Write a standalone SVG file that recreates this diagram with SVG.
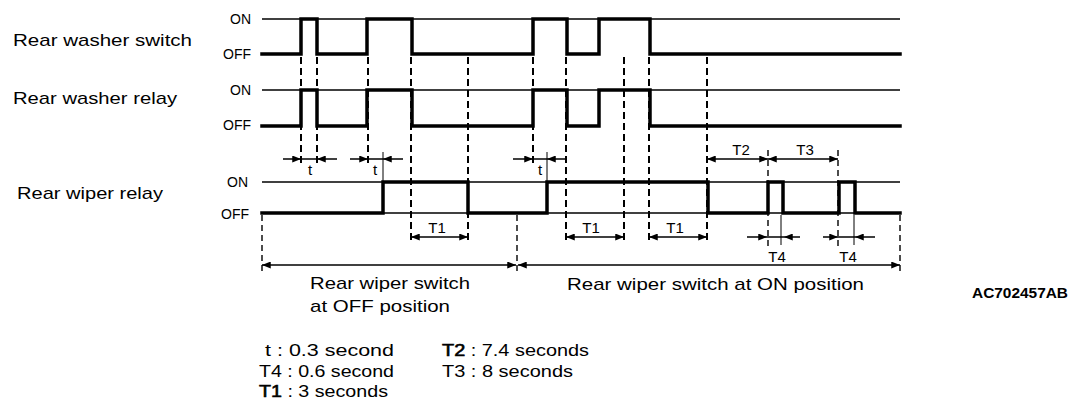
<svg xmlns="http://www.w3.org/2000/svg" width="1088" height="420" viewBox="0 0 1088 420">
<defs>
<style>
text{font-family:"Liberation Sans",Arial,Helvetica,sans-serif;fill:#000}
.lbl{font-size:17px}
.st{font-size:14px}
.tm{font-size:15px}
.hv{stroke:#000;stroke-width:0.6}
.ref{stroke:#000;stroke-width:1.5;fill:none}
.sig{stroke:#000;stroke-width:3.5;fill:none;stroke-linejoin:miter;stroke-linecap:square}
.dash{stroke:#000;stroke-width:2;stroke-dasharray:7 4;fill:none}
.dash2{stroke:#000;stroke-width:1.4;stroke-dasharray:6 4;fill:none}
.tick{stroke:#000;stroke-width:1;fill:none}
.arr{stroke:#000;stroke-width:1.5;fill:none}
.a1{marker-end:url(#ah)}
.a2{marker-start:url(#ah);marker-end:url(#ah)}
</style>
<marker id="ah" viewBox="0 0 10 8" refX="10" refY="4" markerWidth="10" markerHeight="7" markerUnits="userSpaceOnUse" orient="auto-start-reverse"><path d="M0,0 L10,4 L0,8 z" fill="#000"/></marker>
</defs>
<rect width="1088" height="420" fill="#fff"/>

<g id="washer-switch">
<text class="lbl" x="13" y="46" textLength="179" lengthAdjust="spacingAndGlyphs">Rear washer switch</text>
<text class="st" x="251" y="24" text-anchor="end">ON</text>
<text class="st" x="251" y="59" text-anchor="end">OFF</text>
<line class="ref" x1="262" y1="19" x2="900" y2="19"/>
<path class="sig" d="M262,54 H301 V19 H317 V54 H367 V19 H412 V54 H533 V19 H567 V54 H599 V19 H650 V54 H900"/>
</g>

<g id="washer-relay">
<text class="lbl" x="13" y="104" textLength="164" lengthAdjust="spacingAndGlyphs">Rear washer relay</text>
<text class="st" x="251" y="95" text-anchor="end">ON</text>
<text class="st" x="251" y="130" text-anchor="end">OFF</text>
<line class="ref" x1="262" y1="90" x2="900" y2="90"/>
<path class="sig" d="M262,126 H301 V90 H317 V126 H367 V90 H412 V126 H533 V90 H567 V126 H599 V90 H650 V126 H900"/>
</g>

<g id="wiper-relay">
<text class="lbl" x="17" y="199" textLength="146" lengthAdjust="spacingAndGlyphs">Rear wiper relay</text>
<text class="st" x="248" y="187" text-anchor="end">ON</text>
<text class="st" x="249" y="219" text-anchor="end">OFF</text>
<line class="ref" x1="262" y1="182" x2="900" y2="182"/>
<line class="ref" x1="262" y1="213" x2="900" y2="213"/>
<path class="sig" d="M262,213 H383 V182 H468 V213 H547 V182 H708 V213 H768 V182 H783 V213 H839 V182 H855 V213 H900"/>
</g>

<g id="connectors">
<path class="dash" d="M301,57 V167 M317,57 V167 M368,57 V166 M411,57 V242 M468,57 V242 M533,57 V167 M566,57 V242 M624,57 V242 M649,57 V242 M707,57 V242"/>
<path class="dash2" d="M262,215 V271 M517,215 V271 M900,215 V271 M768,150 V250 M838,150 V250"/>
<path class="tick" d="M383,152 V181 M547,152 V181 M781,215 V245 M854,215 V245"/>
<line class="arr a1" x1="283" y1="159" x2="301" y2="159"/>
<line class="arr" x1="301" y1="159" x2="317" y2="159"/>
<line class="arr a1" x1="337" y1="159" x2="317" y2="159"/>
<line class="arr a1" x1="350" y1="159" x2="368" y2="159"/>
<line class="arr" x1="368" y1="159" x2="383" y2="159"/>
<line class="arr a1" x1="403" y1="159" x2="383" y2="159"/>
<line class="arr a1" x1="513" y1="159" x2="533" y2="159"/>
<line class="arr" x1="533" y1="159" x2="547" y2="159"/>
<line class="arr a1" x1="566" y1="159" x2="547" y2="159"/>
<line class="arr a2" x1="411" y1="237" x2="468" y2="237"/>
<line class="arr a2" x1="566" y1="237" x2="624" y2="237"/>
<line class="arr a2" x1="649" y1="237" x2="707" y2="237"/>
<line class="arr a2" x1="707" y1="159" x2="768" y2="159"/>
<line class="arr a2" x1="768" y1="159" x2="838" y2="159"/>
<line class="arr a1" x1="747" y1="237" x2="767" y2="237"/>
<line class="arr" x1="767" y1="237" x2="784" y2="237"/>
<line class="arr a1" x1="800" y1="237" x2="784" y2="237"/>
<line class="arr a1" x1="823" y1="237" x2="838" y2="237"/>
<line class="arr" x1="838" y1="237" x2="855" y2="237"/>
<line class="arr a1" x1="875" y1="237" x2="855" y2="237"/>
<line class="arr a2" x1="262" y1="265" x2="516" y2="265"/>
<line class="arr a2" x1="518" y1="265" x2="900" y2="265"/>
</g>

<g id="timing-labels">
<text class="tm" x="310" y="175" text-anchor="middle">t</text>
<text class="tm" x="375" y="175" text-anchor="middle">t</text>
<text class="tm" x="540" y="175" text-anchor="middle">t</text>
<text class="tm" x="437" y="233" text-anchor="middle">T1</text>
<text class="tm" x="591" y="233" text-anchor="middle">T1</text>
<text class="tm" x="675" y="233" text-anchor="middle">T1</text>
<text class="tm" x="741" y="155" text-anchor="middle">T2</text>
<text class="tm" x="805" y="155" text-anchor="middle">T3</text>
<text class="tm" x="777" y="262" text-anchor="middle">T4</text>
<text class="tm" x="848" y="262" text-anchor="middle">T4</text>
</g>

<g id="switch-off-label">
<text class="lbl" x="310" y="289" textLength="160" lengthAdjust="spacingAndGlyphs">Rear wiper switch</text>
<text class="lbl" x="310" y="312" textLength="140" lengthAdjust="spacingAndGlyphs">at OFF position</text>
</g>
<g id="switch-on-label">
<text class="lbl" x="567" y="290" textLength="297" lengthAdjust="spacingAndGlyphs">Rear wiper switch at ON position</text>
</g>

<g id="figure-code">
<text x="972" y="298" font-size="14" font-weight="bold" textLength="96" lengthAdjust="spacingAndGlyphs">AC702457AB</text>
</g>

<g id="legend">
<text class="lbl" x="265" y="356" textLength="129" lengthAdjust="spacingAndGlyphs">t : 0.3 second</text>
<text class="lbl" x="259" y="377" textLength="135" lengthAdjust="spacingAndGlyphs">T4 : 0.6 second</text>
<text class="lbl" x="259" y="397" textLength="129" lengthAdjust="spacingAndGlyphs"><tspan class="hv">T1</tspan> : 3 seconds</text>
<text class="lbl" x="442" y="356" textLength="147" lengthAdjust="spacingAndGlyphs"><tspan class="hv">T2</tspan> : 7.4 seconds</text>
<text class="lbl" x="442" y="377" textLength="131" lengthAdjust="spacingAndGlyphs">T3 : 8 seconds</text>
</g>
</svg>
